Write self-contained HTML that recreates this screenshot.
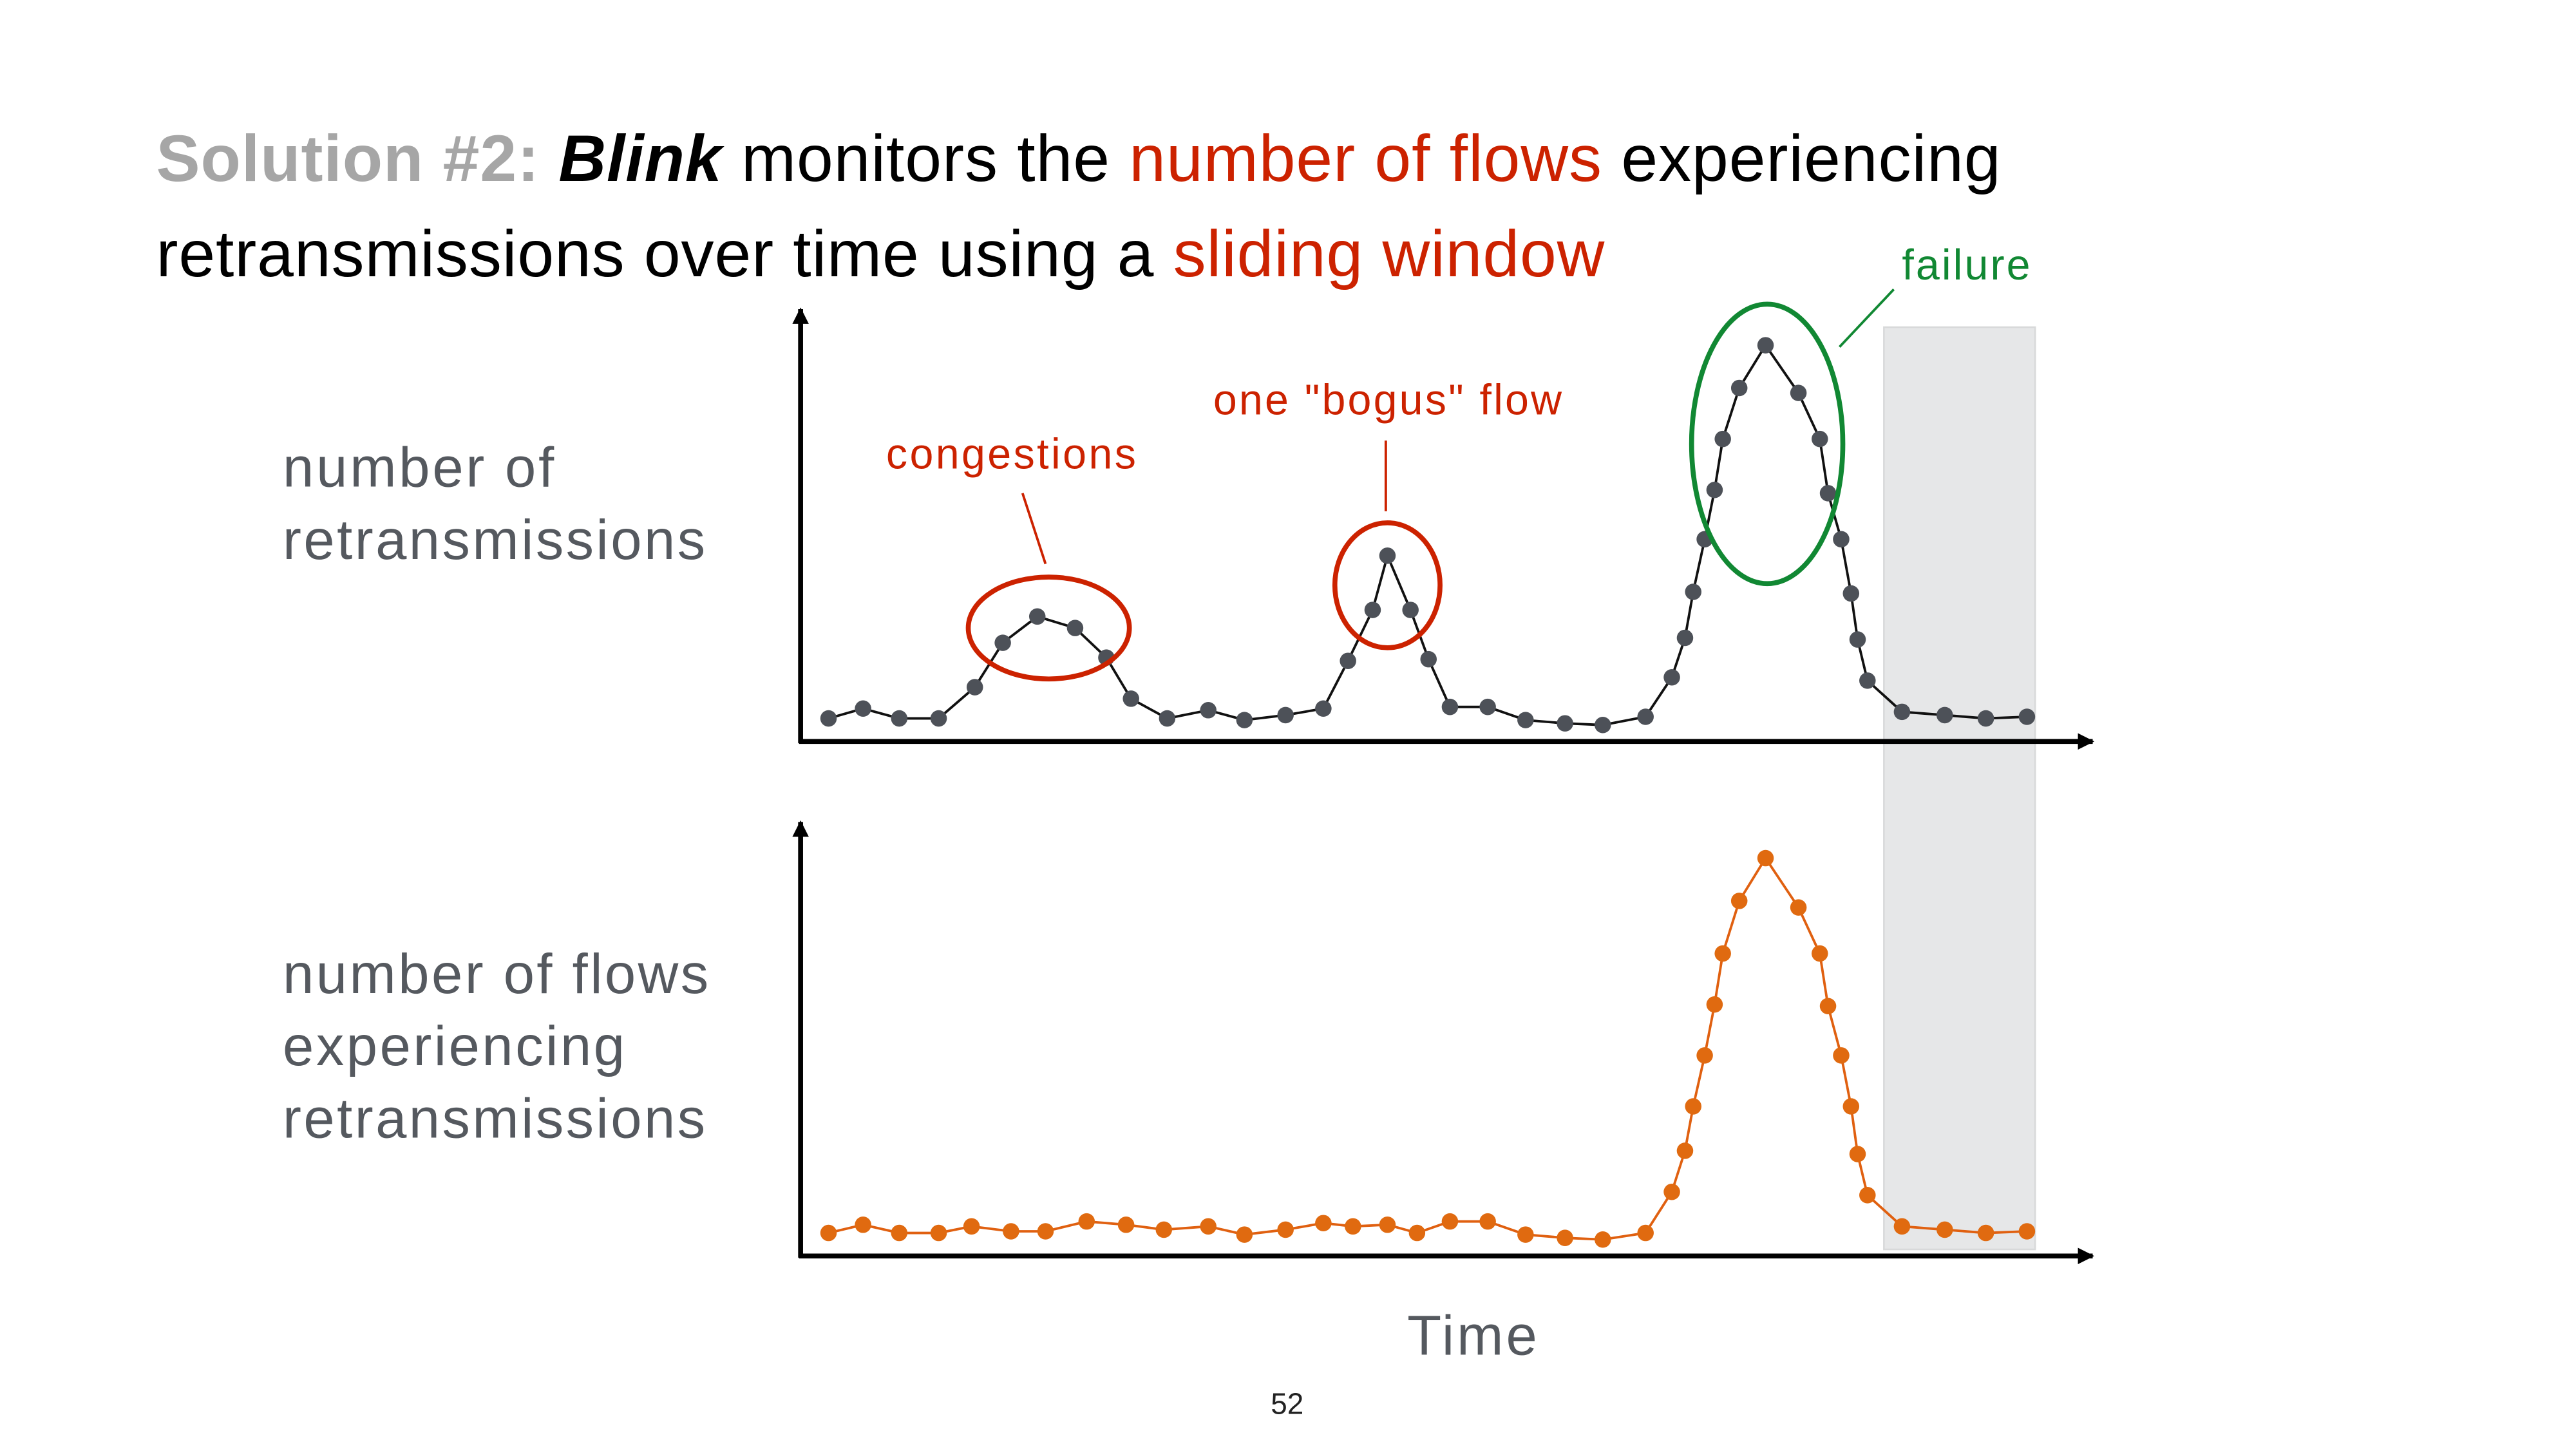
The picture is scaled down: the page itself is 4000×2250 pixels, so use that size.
<!DOCTYPE html>
<html><head><meta charset="utf-8"><style>
html,body{margin:0;padding:0;background:#fff;width:4000px;height:2250px;overflow:hidden}
svg{display:block}
text{font-family:"Liberation Sans",Arial,sans-serif}
</style></head><body>
<svg width="4000" height="2250" viewBox="0 0 1567 881.4" xmlns="http://www.w3.org/2000/svg">
<defs>
<marker id="ah" markerWidth="10" markerHeight="10" refX="9" refY="5" orient="auto" markerUnits="userSpaceOnUse"><path d="M0,0 L10,5 L0,10 z" fill="#000"/></marker>
</defs>
<rect x="1146" y="199" width="92" height="561" fill="#e6e7e8" stroke="#d8d9da"/>
<text x="95" y="110" font-size="40" textLength="1122"><tspan fill="#a6a6a6" font-weight="bold">Solution #2: </tspan><tspan fill="#000" font-weight="bold" font-style="italic">Blink</tspan><tspan fill="#000"> monitors the </tspan><tspan fill="#cc2200">number of flows</tspan><tspan fill="#000"> experiencing</tspan></text>
<text x="95" y="168" font-size="40" textLength="881"><tspan fill="#000">retransmissions over time using a </tspan><tspan fill="#cc2200">sliding window</tspan></text>
<text x="172" y="296" font-size="34" fill="#55595f" textLength="165">number of</text>
<text x="172" y="340" font-size="34" fill="#55595f" textLength="257">retransmissions</text>
<text x="172" y="604" font-size="34" fill="#55595f" textLength="259">number of flows</text>
<text x="172" y="648" font-size="34" fill="#55595f" textLength="208">experiencing</text>
<text x="172" y="692" font-size="34" fill="#55595f" textLength="257">retransmissions</text>
<text x="856" y="824" font-size="34" fill="#55595f" textLength="79">Time</text>
<text x="773" y="860" font-size="18" fill="#222">52</text>
<text x="539" y="285" font-size="26" fill="#cc2200" textLength="152">congestions</text>
<text x="738" y="252" font-size="26" fill="#cc2200" textLength="212">one "bogus" flow</text>
<text x="1157" y="170" font-size="26" fill="#118833" textLength="78">failure</text>
<line x1="622" y1="300" x2="636" y2="343" stroke="#cc2200" stroke-width="1.5"/>
<line x1="843" y1="268" x2="843" y2="311" stroke="#cc2200" stroke-width="1.5"/>
<line x1="1152" y1="176" x2="1119" y2="211" stroke="#118833" stroke-width="1.5"/>
<line x1="487" y1="452" x2="487" y2="188" stroke="#000" stroke-width="3" marker-end="url(#ah)"/>
<line x1="486" y1="451" x2="1273" y2="451" stroke="#000" stroke-width="3" marker-end="url(#ah)"/>
<line x1="487" y1="765" x2="487" y2="500" stroke="#000" stroke-width="3" marker-end="url(#ah)"/>
<line x1="486" y1="764" x2="1273" y2="764" stroke="#000" stroke-width="3" marker-end="url(#ah)"/>
<g id="top"></g><g id="bot"></g>
<ellipse cx="638" cy="382" rx="49" ry="31" fill="none" stroke="#cc2200" stroke-width="3"/>
<ellipse cx="844" cy="356" rx="32" ry="38" fill="none" stroke="#cc2200" stroke-width="3"/>
<ellipse cx="1075" cy="270" rx="46" ry="85" fill="none" stroke="#118833" stroke-width="3"/>
<script>
var T=[[504,437],[525,431],[547,437],[571,437],[593,418],[610,391],[631,375],[654,382],[673,400],[688,425],[710,437],[735,432],[757,438],[782,435],[805,431],[820,402],[835,371],[844,338],[858,371],[869,401],[882,430],[905,430],[928,438],[952,440],[975,441],[1001,436],[1017,412],[1025,388],[1030,360],[1037,328],[1043,298],[1048,267],[1058,236],[1074,210],[1094,239],[1107,267],[1112,300],[1120,328],[1126,361],[1130,389],[1136,414],[1157,433],[1183,435],[1208,437],[1233,436]];
var B=[[504,750],[525,745],[547,750],[571,750],[591,746],[615,749],[636,749],[661,743],[685,745],[708,748],[735,746],[757,751],[782,748],[805,744],[823,746],[844,745],[862,750],[882,743],[905,743],[928,751],[952,753],[975,754],[1001,750],[1017,725],[1025,700],[1030,673],[1037,642],[1043,611],[1048,580],[1058,548],[1074,522],[1094,552],[1107,580],[1112,612],[1120,642],[1126,673],[1130,702],[1136,727],[1157,746],[1183,748],[1208,750],[1233,749]];
function draw(id,P,lc,dc){var g=document.getElementById(id),ns="http://www.w3.org/2000/svg";
var pl=document.createElementNS(ns,"polyline");pl.setAttribute("points",P.map(function(p){return p.join(",")}).join(" "));
pl.setAttribute("fill","none");pl.setAttribute("stroke",lc);pl.setAttribute("stroke-width","1.5");g.appendChild(pl);
P.forEach(function(p){var c=document.createElementNS(ns,"circle");c.setAttribute("cx",p[0]);c.setAttribute("cy",p[1]);c.setAttribute("r","5");c.setAttribute("fill",dc);g.appendChild(c);});}
draw("top",T,"#111","#4d5158");draw("bot",B,"#e06010","#e06a10");
</script>
</svg>
</body></html>
